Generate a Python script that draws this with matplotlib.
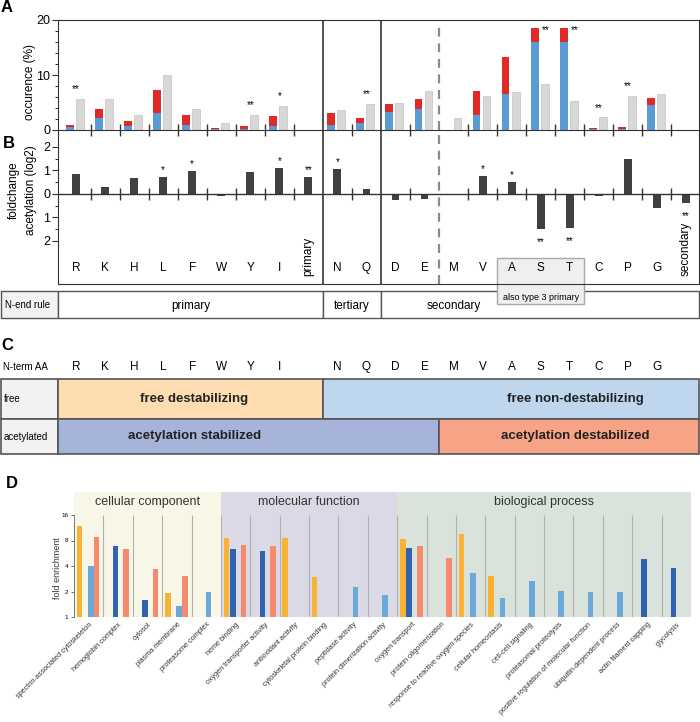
import numpy as np
import matplotlib.pyplot as plt
from matplotlib.patches import Rectangle
from matplotlib.ticker import MultipleLocator, FixedLocator, NullLocator

plt.rcParams['font.family'] = ['Liberation Sans', 'DejaVu Sans']
NARROW = ['Liberation Sans Narrow', 'Liberation Sans', 'DejaVu Sans']

# ---- panel A / B data ----
aa = ['R', 'K', 'H', 'L', 'F', 'W', 'Y', 'I', 'primary', 'N', 'Q', 'D', 'E',
      'M', 'V', 'A', 'S', 'T', 'C', 'P', 'G', 'secondary']
occ_blue = [0.5, 2.2, 0.7, 3.15, 0.9, 0.2, 0.1, 0.7, 0, 0.9, 1.35, 3.3, 3.9,
            0, 2.8, 6.6, 16.0, 15.95, 0.1, 0.1, 4.6, 0]
occ_red = [0.5, 1.7, 0.9, 4.15, 1.8, 0.2, 0.65, 1.85, 0, 2.2, 0.9, 1.4, 1.7,
           0, 4.3, 6.6, 2.5, 2.55, 0.35, 0.4, 1.25, 0]
occ_grey = [5.65, 5.65, 2.7, 10.0, 3.75, 1.2, 2.8, 4.35, 0, 3.7, 4.8, 4.95, 7.15,
            2.25, 6.1, 7.0, 8.4, 5.35, 2.3, 6.2, 6.55, 0]
sig_a = {'R': '**', 'Y': '**', 'I': '*', 'Q': '**', 'S': '**', 'T': '**',
         'C': '**', 'P': '**'}

foldchange = [0.84, 0.3, 0.68, 0.71, 0.99, -0.1, 0.92, 1.12, 0.74, 1.05, 0.23,
              -0.27, -0.23, 0, 0.78, 0.51, -1.48, -1.43, -0.1, 1.5, -0.6, -0.37]
sig_b = {'L': '*', 'F': '*', 'I': '*', 'primary': '**', 'N': '*', 'V': '*',
         'A': '*', 'S': '**', 'T': '**', 'secondary': '**'}

nend_groups = ['primary', 'tertiary', 'secondary']
nend_edges = [8.5, 10.5]      # column boundaries between the groups
type3 = ['A', 'S', 'T']

# ---- panel C ----
nterm = ['R', 'K', 'H', 'L', 'F', 'W', 'Y', 'I', 'N', 'Q', 'D', 'E',
         'M', 'V', 'A', 'S', 'T', 'C', 'P', 'G']
acet_split = 'E'        # last acetylation stabilized residue

# ---- panel D ----
go_terms = ['spectrin-associated cytoskeleton', 'hemoglobin complex', 'cytosol',
            'plasma membrane', 'proteasome complex', 'heme binding',
            'oxygen transporter activity', 'antioxidant activity',
            'cytoskeletal protein binding', 'peptidase activity',
            'protein dimerization activity', 'oxygen transport',
            'protein oligomerization', 'response to reactive oxygen species',
            'cellular homeostasis', 'cell-cell signaling', 'proteasomal proteolysis',
            'positive regulation of molecular function', 'ubiquitin-dependent process',
            'actin filament capping', 'glycolysis']
go_groups = ['cellular component', 'molecular function', 'biological process']
go_sizes = [5, 6, 10]
nan = np.nan
fe_orange = [12.0, nan, nan, 1.9, nan, 8.65, nan, 8.65, 2.93, nan, nan,
             8.3, nan, 9.5, 3.06, nan, nan, nan, nan, nan, nan]
fe_dblue = [nan, 6.96, 1.6, nan, nan, 6.35, 6.0, nan, nan, nan, nan,
            6.5, nan, nan, nan, nan, nan, nan, nan, 4.83, 3.74]
fe_lblue = [3.95, nan, nan, 1.36, 1.97, nan, nan, nan, nan, 2.24, 1.84,
            nan, nan, 3.29, 1.67, 2.67, 2.03, 1.96, 1.96, nan, nan]
fe_salmon = [8.9, 6.3, 3.68, 3.05, nan, 7.1, 6.8, nan, nan, nan, nan,
             6.85, 4.93, nan, nan, nan, nan, nan, nan, nan, nan]

W, H = 700, 722
fig = plt.figure(figsize=(W / 100, H / 100), dpi=100)


def rect(x0, y0, x1, y1):
    return [x0 / W, 1 - y1 / H, (x1 - x0) / W, (y1 - y0) / H]


# overlay axes in pixel coordinates for tables and labels
axP = fig.add_axes([0, 0, 1, 1])
axP.set_xlim(0, W)
axP.set_ylim(H, 0)
axP.axis('off')

XL = (-0.62, 21.45)
FL, FR = 58, 699


def cx(c):
    return FL + (c - XL[0]) / (XL[1] - XL[0]) * (FR - FL)


x = np.arange(len(aa))
ticks = [i + 0.5 for i in range(len(aa) - 1) if i + 0.5 not in (8.5, 10.5, 12.5)]
DARK = '#333333'

# ---------------- A ----------------
axA = fig.add_axes(rect(FL, 20, FR, 130))
axA.set_facecolor('none')
axA.bar(x - 0.21, occ_blue, 0.27, color='#5b9bd5')
axA.bar(x - 0.21, occ_red, 0.27, bottom=occ_blue, color='#e02a27')
axA.bar(x + 0.135, occ_grey, 0.27, color='#d8d8d8', edgecolor='#c2c2c2', lw=0.5)
axA.set_xlim(XL)
axA.set_ylim(0, 20)
axA.set_xticks(ticks)
axA.set_xticklabels([])
axA.tick_params(axis='x', direction='inout', length=8, width=1, color=DARK)
axA.set_yticks([0, 10, 20])
axA.yaxis.set_minor_locator(MultipleLocator(2))
axA.tick_params(axis='y', labelsize=9, length=4, color=DARK, pad=1.5)
axA.tick_params(axis='y', which='minor', length=2)
for s in axA.spines.values():
    s.set_color(DARK)
for e in nend_edges:
    axA.axvline(e, color=DARK, lw=1.2)
axA.axvline(12.5, color='#8a8a8a', lw=1.6, dashes=(4, 3))
for i, name in enumerate(aa):
    if name in sig_a:
        top = occ_blue[i] + occ_red[i]
        hi = max(top, occ_grey[i])
        if hi + 2.1 > 19.5:
            axA.annotate(sig_a[name], (i - 0.21, top), xytext=(8, -1.5),
                         textcoords='offset points', ha='center', va='center', fontsize=7)
        else:
            axA.annotate(sig_a[name], (i, hi), xytext=(0, 7),
                         textcoords='offset points', ha='center', va='center', fontsize=7)

# ---------------- B ----------------
axB = fig.add_axes(rect(FL, 130, FR, 284))
axB.set_facecolor('none')
axB.bar(x, foldchange, 0.27, color='#404040')
axB.set_xlim(XL)
axB.set_ylim(-3.83, 2.72)
axB.axhline(0, color=DARK, lw=1)
axB.vlines(ticks, -0.25, 0.25, color=DARK, lw=1)
axB.set_xticks([])
axB.set_yticks([-2, -1, 0, 1, 2])
axB.set_yticklabels(['2', '1', '0', '1', '2'])
axB.yaxis.set_minor_locator(FixedLocator([-1.5, -0.5, 0.5, 1.5]))
axB.tick_params(axis='y', labelsize=9, length=4, color=DARK, pad=1.5)
axB.tick_params(axis='y', which='minor', length=2)
axB.spines['top'].set_visible(False)
for s in axB.spines.values():
    s.set_color(DARK)
for e in nend_edges:
    axB.axvline(e, color=DARK, lw=1.2)
axB.axvline(12.5, color='#8a8a8a', lw=1.6, dashes=(4, 3))
for i, name in enumerate(aa):
    if len(name) == 1:
        axB.text(i, 0.104, name, transform=axB.get_xaxis_transform(),
                 ha='center', va='center', fontsize=8.5)
    else:
        axB.text(i, 0.055, name, transform=axB.get_xaxis_transform(),
                 ha='center', va='bottom', rotation=90, fontsize=8.5)
    if name in sig_b:
        v = foldchange[i]
        off = 5 if v > 0 else -9.5
        axB.annotate(sig_b[name], (i, v), xytext=(0, off),
                     textcoords='offset points', ha='center', va='center', fontsize=7)

# labels
axP.text(7, 8, 'A', fontsize=12, fontweight='bold', ha='center', va='center')
axP.text(9, 143, 'B', fontsize=12, fontweight='bold', ha='center', va='center')
axP.text(30, 82, 'occurence (%)', rotation=90, ha='center', va='center', fontsize=8.5)
axP.text(14, 190, 'foldchange', rotation=90, ha='center', va='center', fontsize=8.5)
axP.text(31, 190, 'acetylation (log2)', rotation=90, ha='center', va='center', fontsize=8.5)

# N-end rule row
EC = '#555555'
r0, r1 = 291, 318
axP.add_patch(Rectangle((1, r0), FL - 1, r1 - r0, fc='#f2f2f2', ec=EC, lw=1))
axP.text(5, (r0 + r1) / 2, 'N-end rule', ha='left', va='center', fontsize=7)
edges = [XL[0]] + nend_edges + [XL[1]]
for k, g in enumerate(nend_groups):
    a, b = cx(edges[k]), cx(edges[k + 1])
    axP.add_patch(Rectangle((a, r0), b - a, r1 - r0, fc='white', ec=EC, lw=1))
    tx = (a + b) / 2 if g != 'secondary' else cx(13.0)
    axP.text(tx, (r0 + r1) / 2 + 1, g, ha='center', va='center', fontsize=8.5)
t0, t1 = aa.index(type3[0]) - 0.5, aa.index(type3[-1]) + 0.5
axP.add_patch(Rectangle((cx(t0), 258), cx(t1) - cx(t0), 304 - 258,
                        fc='#efefef', ec='#a8a8a8', lw=1, zorder=3))
axP.text((cx(t0) + cx(t1)) / 2, 297, 'also type 3 primary', ha='center',
         va='center', fontsize=6.5, zorder=4)

# ---------------- C ----------------
axP.text(7, 346, 'C', fontsize=12, fontweight='bold', ha='center', va='center')
axP.text(3, 367, 'N-term AA', ha='left', va='center', fontsize=7, family=NARROW)
for name in nterm:
    axP.text(cx(aa.index(name)), 367, name, ha='center', va='center',
             fontsize=8.5, family=NARROW)
f0, f1, a1 = 379, 419, 454
fsplit = cx(nend_edges[0])
asplit = cx(aa.index(acet_split) + 0.5)
axP.add_patch(Rectangle((1, f0), FL - 1, f1 - f0, fc='#f2f2f2', ec=EC, lw=1.2))
axP.add_patch(Rectangle((1, f1), FL - 1, a1 - f1, fc='#f2f2f2', ec=EC, lw=1.2))
axP.text(4, (f0 + f1) / 2, 'free', ha='left', va='center', fontsize=7, family=NARROW)
axP.text(4, (f1 + a1) / 2, 'acetylated', ha='left', va='center', fontsize=7, family=NARROW)
axP.add_patch(Rectangle((FL, f0), fsplit - FL, f1 - f0, fc='#fddcb2', ec=EC, lw=1.2))
axP.add_patch(Rectangle((fsplit, f0), FR - fsplit, f1 - f0, fc='#bed6ee', ec=EC, lw=1.2))
axP.add_patch(Rectangle((FL, f1), asplit - FL, a1 - f1, fc='#a6b4d9', ec=EC, lw=1.2))
axP.add_patch(Rectangle((asplit, f1), FR - asplit, a1 - f1, fc='#f6a386', ec=EC, lw=1.2))
lx, rx = (FL + fsplit) / 2 + 4, (asplit + FR) / 2 + 6
bold = dict(ha='center', va='center', fontsize=9.5, fontweight='bold', family=NARROW,
            color='#222222')
axP.text(lx, (f0 + f1) / 2, 'free destabilizing', **bold)
axP.text(rx, (f0 + f1) / 2, 'free non-destabilizing', **bold)
axP.text(lx, (f1 + a1) / 2, 'acetylation stabilized', **bold)
axP.text(rx, (f1 + a1) / 2, 'acetylation destabilized', **bold)

# ---------------- D ----------------
axP.text(12, 483, 'D', fontsize=12, fontweight='bold', ha='center', va='center')
axD = fig.add_axes(rect(74, 515, 691, 617))
axD.set_facecolor('none')
band_colors = ['#f8f6e6', '#dcd9e6', '#d9e3dc']
start = 0
for g, n, c in zip(go_groups, go_sizes, band_colors):
    axD.add_patch(Rectangle((start, 0), n, 1.225, transform=axD.get_xaxis_transform(),
                            fc=c, ec='none', clip_on=False, zorder=0))
    axD.text(start + n / 2, 1.127, g, transform=axD.get_xaxis_transform(),
             ha='center', va='center', fontsize=9, color='#333333')
    start += n
n_go = len(go_terms)
axD.vlines(np.arange(1, n_go + 1), 1, 16, color='#b0b0b0', lw=0.8, zorder=1)
series = [(fe_orange, 0.19, '#f9b233'), (fe_dblue, 0.41, '#2f63ad'),
          (fe_lblue, 0.58, '#6aa9d9'), (fe_salmon, 0.77, '#f48a6e')]
gx = np.arange(n_go)
for vals, off, col in series:
    v = np.array(vals)
    m = ~np.isnan(v)
    axD.bar(gx[m] + off, v[m] - 1, 0.19, bottom=1, color=col, zorder=2)
axD.set_yscale('log', base=2)
axD.set_ylim(1, 16)
axD.set_xlim(0, n_go)
axD.set_yticks([1, 2, 4, 8, 16])
axD.set_yticklabels(['1', '2', '4', '8', '16'])
axD.yaxis.set_minor_locator(NullLocator())
axD.tick_params(axis='y', labelsize=4.5, length=2.5, width=0.6, color='#555555', pad=1.5)
axD.set_xticks(gx + 0.5)
axD.set_xticklabels(go_terms, rotation=45, ha='right', rotation_mode='anchor',
                    fontsize=5.2, color='#333333')
axD.tick_params(axis='x', length=0, pad=3)
for side in ['top', 'right', 'bottom']:
    axD.spines[side].set_visible(False)
axD.spines['left'].set_color('#666666')
axD.spines['left'].set_linewidth(0.6)
axP.text(57, 568, 'fold enrichment', rotation=90, ha='center', va='center',
         fontsize=6.5, color='#333333')

fig.savefig('out.png', dpi=100)
